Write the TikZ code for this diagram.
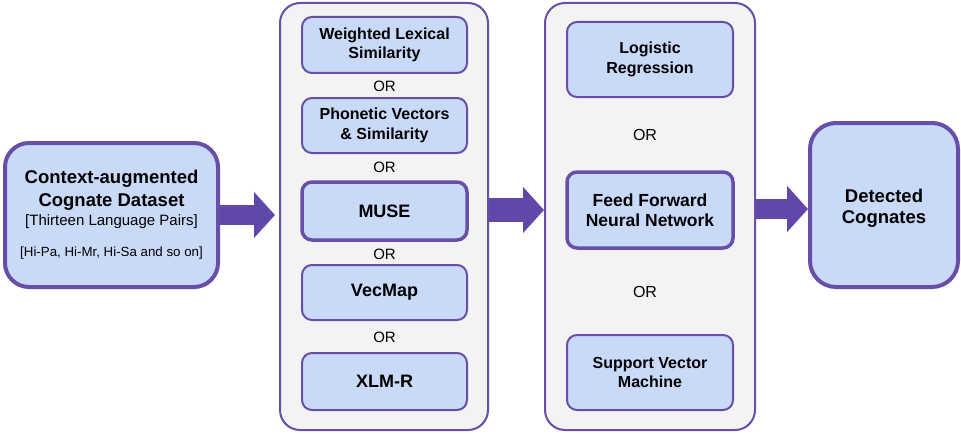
\documentclass[tikz,border=0pt]{standalone}
\usepackage{fontspec}
\setmainfont{Liberation Sans}
\usetikzlibrary{arrows.meta}
\definecolor{pborder}{HTML}{674EA7}
\definecolor{parrow}{HTML}{6247AA}
\definecolor{bfill}{HTML}{C9DAF8}
\definecolor{pfill}{HTML}{F3F3F3}
\tikzset{
  panel/.style={draw=pborder, line width=2pt, fill=pfill, rounded corners=20pt, minimum height=427pt, inner sep=0pt},
  inbox/.style={draw=pborder, line width=2pt, fill=bfill, rounded corners=10pt, inner sep=0pt, align=center, font=\bfseries\fontsize{16}{19.5}\selectfont},
  thickbox/.style={inbox, line width=3.5pt},
  bigbox/.style={draw=pborder, line width=4pt, fill=bfill, rounded corners=24pt, inner sep=0pt, align=center},
  ortext/.style={font=\fontsize{15}{18}\selectfont, inner sep=0pt},
  ortextb/.style={font=\fontsize{16}{19}\selectfont, inner sep=0pt},
  fatarrow/.style={draw=parrow, line width=#1, -{Triangle[length=21pt,width=45pt]}},
}
\begin{document}
\begin{tikzpicture}[x=1pt,y=-1pt]
\useasboundingbox (0,0) rectangle (961,436);
% left box
\node[bigbox, minimum width=213pt, minimum height=144pt, font=\fontsize{13}{15}\selectfont] (src) at (111.5,215)
  {{\bfseries\fontsize{18.5}{20}\selectfont Context-augmented}\\[5pt]
   {\bfseries\fontsize{18.5}{20}\selectfont Cognate Dataset}\\[4pt]
   {\fontsize{15}{17}\selectfont [Thirteen Language Pairs]}\\[16pt]
   {\fontsize{13.3}{15}\selectfont [Hi-Pa, Hi-Mr, Hi-Sa and so on]}};
% panels
\node[panel, minimum width=208pt] (p1) at (384,216.5) {};
\node[panel, minimum width=210pt] (p2) at (650,216.5) {};
% panel 1 items
\node[inbox, minimum width=165pt, minimum height=56pt] (b1) at (384.5,45) {Weighted Lexical\\Similarity};
\node[ortext] (or1) at (384.5,86) {OR};
\node[inbox, minimum width=165pt, minimum height=55pt] (b2) at (384.5,125.5) {Phonetic Vectors\\\&{} Similarity};
\node[ortext] (or2) at (384.5,167) {OR};
\node[thickbox, minimum width=165pt, minimum height=58pt, font=\bfseries\fontsize{18}{20}\selectfont] (b3) at (384.5,211) {MUSE};
\node[ortext] (or3) at (384.5,254) {OR};
\node[inbox, minimum width=165pt, minimum height=55pt, font=\bfseries\fontsize{18}{20}\selectfont] (b4) at (384.5,292.5) {VecMap};
\node[ortext] (or4) at (384.5,337) {OR};
\node[inbox, minimum width=165pt, minimum height=57pt, font=\bfseries\fontsize{18}{20}\selectfont] (b5) at (384.5,381.5) {XLM-R};
% panel 2 items
\node[inbox, minimum width=166pt, minimum height=75pt] (c1) at (650,59.5) {Logistic\\Regression};
\node[ortextb] (or5) at (645,135) {OR};
\node[thickbox, minimum width=166pt, minimum height=76pt, font=\bfseries\fontsize{17.5}{20.5}\selectfont] (c2) at (650,210) {Feed Forward\\Neural Network};
\node[ortextb] (or6) at (645,292) {OR};
\node[inbox, minimum width=166pt, minimum height=75pt] (c3) at (650,372.5) {Support Vector\\Machine};
% detected
\node[bigbox, minimum width=148pt, minimum height=164pt, rounded corners=26pt, font=\bfseries\fontsize{18.5}{21}\selectfont] (dst) at (884,205) {\\[-2pt]Detected\\Cognates};
% arrows
\coordinate (a1e) at (275,215);
\coordinate (a2s) at (p1.east |- 0,210);
\coordinate (a2e) at (p2.west |- 0,210);
\coordinate (a3s) at (p2.east |- 0,209);
\coordinate (a3e) at (dst.west |- 0,209);
\draw[fatarrow=20pt] (src.east |- a1e) -- (a1e);
\draw[fatarrow=24pt] (a2s) -- (a2e);
\draw[fatarrow=20pt] (a3s) -- (a3e);
\end{tikzpicture}
\end{document}
